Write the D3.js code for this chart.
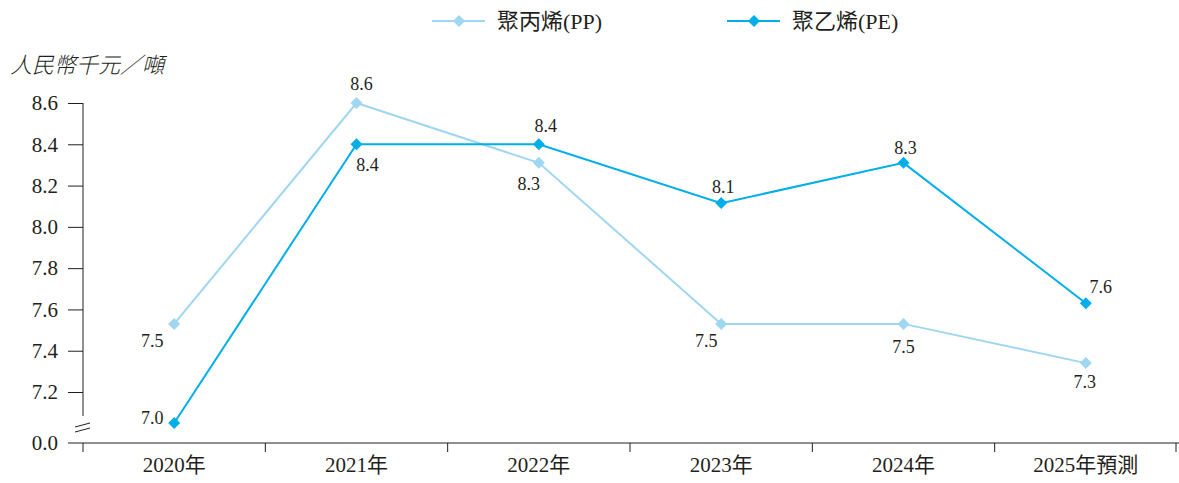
<!DOCTYPE html>
<html>
<head>
<meta charset="utf-8">
<script src="https://cdnjs.cloudflare.com/ajax/libs/d3/7.8.5/d3.min.js"></script>
<style>
  body { margin: 0; background: #fff; }
  svg text { font-family: "Liberation Serif", "Noto Sans CJK TC", serif !important; fill: #231f20; }
</style>
</head>
<body>
<div id="chart"></div>
<script>

// data
var years = ["2020年", "2021年", "2022年", "2023年", "2024年", "2025年預測"];
var ppValues = [7.53, 8.6, 8.31, 7.53, 7.53, 7.34];
var peValues = [7.05, 8.4, 8.4, 8.115, 8.31, 7.63];
var ppLabels = ["7.5", "8.6", "8.3", "7.5", "7.5", "7.3"];
var peLabels = ["7.0", "8.4", "8.4", "8.1", "8.3", "7.6"];
var yTicks = [7.2, 7.4, 7.6, 7.8, 8.0, 8.2, 8.4, 8.6];
var seriesNames = ["聚丙烯(PP)", "聚乙烯(PE)"];

// label offsets relative to point
var ppOffsets = [[-22, 23], [5, -13], [-10, 27], [-15, 23], [0, 29], [-1, 25]];
var peOffsets = [[-22, 1], [11, 27], [7, -12], [2, -10], [2, -9], [15, -10]];

var width = 1179, height = 483;
var colorPP = "#9fd6f1", colorPE = "#00aee9";

var svg = d3.select("#chart")
    .append("svg")
    .attr("width", width)
    .attr("height", height)

var x = d3.scaleBand().domain(years).range([83, 1177]).padding(0);
// broken axis: bottom of the plot sits at "0.0"
var y = d3.scaleLinear().domain([6.953, 8.6]).range([443, 103]);

// y axis (upper part)
var yAxis = svg.append("g")
    .attr("transform", "translate(83,0)")
    .call(d3.axisLeft(y).tickValues(yTicks).tickSize(15).tickPadding(10).tickFormat(d3.format(".1f")))

yAxis.attr("font-family", null).attr("font-size", null);
yAxis.select(".domain").remove();
yAxis.selectAll(".tick line").attr("stroke", "#231f20");
yAxis.selectAll(".tick text")
    .style("font-size", "21px");

svg.append("line")
    .attr("x1", 83).attr("x2", 83)
    .attr("y1", y(8.6)).attr("y2", 416)
    .attr("stroke", "#231f20")

// break marks
svg.append("line").attr("x1", 75).attr("y1", 427).attr("x2", 90).attr("y2", 423).attr("stroke", "#231f20")
svg.append("line").attr("x1", 75).attr("y1", 432).attr("x2", 90).attr("y2", 428).attr("stroke", "#231f20")

// 0.0 label and baseline
svg.append("text")
    .text("0.0")
    .attr("x", 58)
    .attr("y", y.range()[0])
    .attr("dy", "0.32em")
    .style("text-anchor", "end")
    .style("font-size", "21px")

svg.append("line")
    .attr("x1", 68).attr("x2", width)
    .attr("y1", 443).attr("y2", 443)
    .attr("stroke", "#231f20")

// x axis
var xAxis = svg.append("g")
    .attr("transform", "translate(0,443)")
    .call(d3.axisBottom(x).tickSize(0).tickPadding(14))
xAxis.attr("font-family", null).attr("font-size", null);
xAxis.select(".domain").remove();
xAxis.selectAll(".tick text").style("font-size", "21px");

svg.append("g")
    .selectAll(".xtick")
    .data(years.concat(["end"]))
    .enter()
    .append("line")
    .attr("class", "xtick")
    .attr("x1", function (d, i) { return i < years.length ? x(d) : x.range()[1] - 1; })
    .attr("x2", function (d, i) { return i < years.length ? x(d) : x.range()[1] - 1; })
    .attr("y1", 443).attr("y2", 452)
    .attr("stroke", "#231f20")

// y title
svg.append("text")
    .text("人民幣千元／噸")
    .attr("x", 10)
    .attr("y", 73)
    .style("font-size", "22px")
    .style("font-style", "italic")
    .style("font-weight", "300")

var cx = function (i) { return x(years[i]) + x.bandwidth() / 2; };
var line = d3.line()
    .x(function (d, i) { return cx(i); })
    .y(function (d) { return y(d); });

function diamond(s) {
  return "M0," + (-s) + "L" + s + ",0L0," + s + "L" + (-s) + ",0Z";
}

function drawSeries(values, labels, offsets, color, cls) {
  svg.append("path")
      .datum(values)
      .attr("d", line)
      .attr("fill", "none")
      .attr("stroke", color)
      .attr("stroke-width", 2)

  svg.append("g")
      .selectAll("." + cls + "-pt")
      .data(values)
      .enter()
      .append("path")
      .attr("class", cls + "-pt")
      .attr("d", diamond(6))
      .attr("transform", function (d, i) { return "translate(" + cx(i) + "," + y(d) + ")"; })
      .attr("fill", color)

  svg.append("g")
      .selectAll("." + cls + "-lbl")
      .data(values)
      .enter()
      .append("text")
      .attr("class", cls + "-lbl")
      .text(function (d, i) { return labels[i]; })
      .attr("x", function (d, i) { return cx(i) + offsets[i][0]; })
      .attr("y", function (d, i) { return y(d) + offsets[i][1]; })
      .style("text-anchor", "middle")
      .style("font-size", "18px")
}

drawSeries(ppValues, ppLabels, ppOffsets, colorPP, "pp");
drawSeries(peValues, peLabels, peOffsets, colorPE, "pe");

// legend
var legend = svg.append("g")
    .selectAll(".legend")
    .data([[seriesNames[0], colorPP, 432], [seriesNames[1], colorPE, 727]])
    .enter()
    .append("g")
    .attr("transform", function (d) { return "translate(" + d[2] + ",21)"; })

legend.append("line")
    .attr("x1", 0).attr("x2", 53)
    .attr("stroke", function (d) { return d[1]; })
    .attr("stroke-width", 2)
legend.append("path")
    .attr("d", diamond(6))
    .attr("transform", "translate(27,0)")
    .attr("fill", function (d) { return d[1]; })
legend.append("text")
    .text(function (d) { return d[0]; })
    .attr("x", 65)
    .attr("dy", "0.35em")
    .style("font-size", "22px")

</script>
</body>
</html>
